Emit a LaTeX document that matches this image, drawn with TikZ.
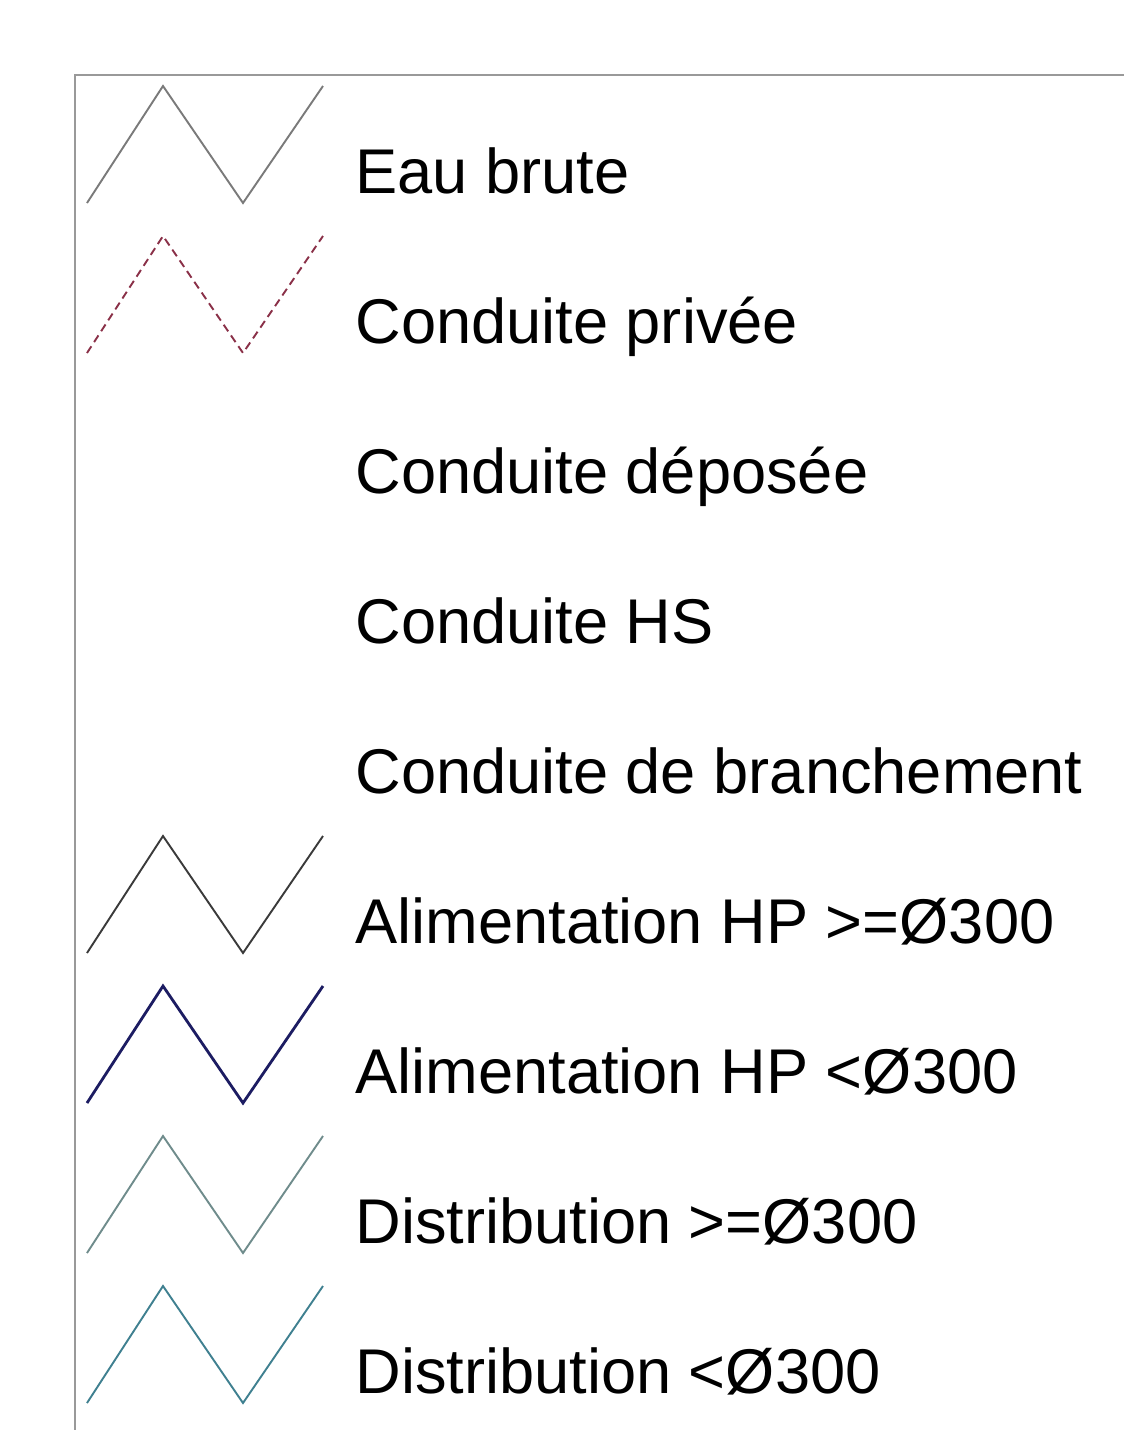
\documentclass[tikz,border=0pt]{standalone}
\usepackage{fontspec}
\setmainfont{Liberation Sans}
\begin{document}
\begin{tikzpicture}[x=0.5pt,y=-0.5pt,
  lbl/.style={anchor=base west,inner sep=0pt,font=\fontsize{31.6}{38}\selectfont,text=black},
  zig/.style={line width=0.95pt,line join=miter},
  framecol/.style={draw=black!40,line width=1pt}]
\definecolor{cBrute}{HTML}{7A7A7A}
\definecolor{cPriv}{HTML}{8A3048}
\definecolor{cAlimA}{HTML}{3A3A3A}
\definecolor{cAlimB}{HTML}{1C1C62}
\definecolor{cDistA}{HTML}{6F8C8C}
\definecolor{cDistB}{HTML}{3F8090}
\useasboundingbox (0,0) rectangle (1124,1430);
\fill[white] (0,0) rectangle (1124,1430);
% frame
\coordinate (fTL) at (75,75);
\coordinate (fTR) at (1124,75);
\coordinate (fBL) at (75,1430);
\draw[framecol] (fTR) -- (fTL) -- (fBL);
% zigzags
\draw[zig,cBrute] (87,203) -- (163,86) -- (243,203) -- (323,86);
\draw[zig,cPriv,dash pattern=on 4pt off 2.5pt] (87,353) -- (163,236) -- (243,353) -- (323,236);
\draw[zig,cAlimA] (87,953) -- (163,836) -- (243,953) -- (323,836);
\draw[zig,cAlimB,line width=1.4pt] (87,1103) -- (163,986) -- (243,1103) -- (323,986);
\draw[zig,cDistA] (87,1253) -- (163,1136) -- (243,1253) -- (323,1136);
\draw[zig,cDistB] (87,1403) -- (163,1286) -- (243,1403) -- (323,1286);
% labels
\node[lbl] (l0) at (355,193) {Eau brute};
\node[lbl] (l1) at (355,343) {Conduite privée};
\node[lbl] (l2) at (355,493) {Conduite déposée};
\node[lbl] (l3) at (355,643) {Conduite HS};
\node[lbl] (l4) at (355,793) {Conduite de branchement};
\node[lbl] (l5) at (355,943) {Alimentation HP >=Ø300};
\node[lbl] (l6) at (355,1093) {Alimentation HP <Ø300};
\node[lbl] (l7) at (355,1243) {Distribution >=Ø300};
\node[lbl] (l8) at (355,1393) {Distribution <Ø300};
\end{tikzpicture}
\end{document}
